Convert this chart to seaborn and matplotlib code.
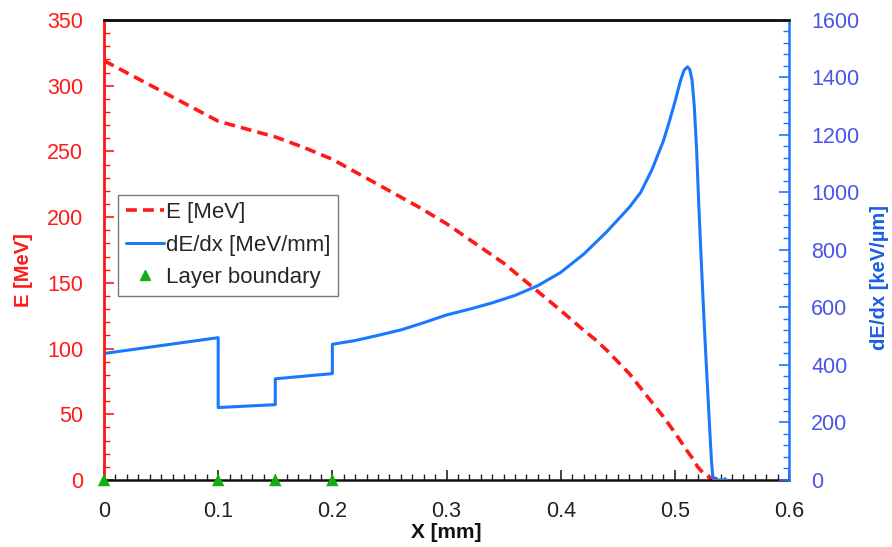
import numpy as np
import pandas as pd
import matplotlib
matplotlib.use("Agg")
import matplotlib.pyplot as plt
from matplotlib.ticker import MultipleLocator, FuncFormatter
from matplotlib.lines import Line2D
import seaborn as sns

# ---- data ----
e_x = [0.0, 0.05, 0.1, 0.125, 0.15, 0.175, 0.2, 0.225, 0.25, 0.275, 0.3,
       0.325, 0.35, 0.375, 0.4, 0.42, 0.43, 0.44, 0.45, 0.46, 0.47, 0.48,
       0.49, 0.5, 0.51, 0.515, 0.52, 0.525, 0.53, 0.535, 0.545]
e_val = [319, 296, 273, 267, 261, 253, 244, 232, 220, 208, 195,
         180, 165, 147, 129, 114, 107, 99, 90, 81, 70, 59,
         48, 36, 23, 17, 10, 5, 2, 1, 0.5]

dedx_x = [0.0, 0.1, 0.1, 0.15, 0.15, 0.2, 0.2, 0.22, 0.24, 0.26, 0.28, 0.30,
          0.32, 0.34, 0.36, 0.38, 0.40, 0.42, 0.44, 0.46, 0.47, 0.48, 0.49,
          0.495, 0.50, 0.505, 0.508, 0.511, 0.513, 0.515, 0.517, 0.519,
          0.521, 0.523, 0.525, 0.527, 0.529, 0.531, 0.532, 0.533, 0.534,
          0.545]
dedx_val = [440, 495, 252, 262, 352, 370, 472, 485, 503, 522, 547, 574,
            594, 616, 642, 676, 722, 785, 862, 948, 1000, 1080, 1180,
            1245, 1315, 1390, 1425, 1437, 1428, 1392, 1300, 1150,
            950, 770, 600, 440, 290, 140, 70, 20, 0,
            0]

layer_x = [0.0, 0.1, 0.15, 0.2]
layer_y = [0, 0, 0, 0]

RED = "#ff1a1a"
BLUE = "#1a78ff"
BLUE_TXT = "#4a55e8"
GREEN = "#10b010"

sns.set_theme(style="white")
plt.rcParams["font.family"] = ["Liberation Sans", "DejaVu Sans"]

fig = plt.figure(figsize=(8.92, 5.47), dpi=100)
ax = fig.add_axes([0.1166, 0.1225, 0.768, 0.841])
ax2 = ax.twinx()

sns.lineplot(x=e_x, y=e_val, ax=ax, color=RED, lw=2.6, estimator=None,
             sort=False, linestyle=(0, (3, 1.7)))
sns.lineplot(x=dedx_x, y=dedx_val, ax=ax2, color=BLUE, lw=2.2,
             estimator=None, sort=False)
sns.scatterplot(x=layer_x, y=layer_y, ax=ax2, color=GREEN, marker="^",
                s=80, edgecolor="none", zorder=5, clip_on=False)

ax.set_xlim(0, 0.6)
ax.set_ylim(0, 350)
ax2.set_ylim(0, 1600)

ax.xaxis.set_major_locator(MultipleLocator(0.1))
ax.xaxis.set_minor_locator(MultipleLocator(0.01))
ax.yaxis.set_major_locator(MultipleLocator(50))
ax.yaxis.set_minor_locator(MultipleLocator(10))
ax2.yaxis.set_major_locator(MultipleLocator(200))
ax2.yaxis.set_minor_locator(MultipleLocator(40))
ax.xaxis.set_major_formatter(FuncFormatter(
    lambda v, p: "0" if abs(v) < 1e-9 else f"{v:.1f}"))

ax.tick_params(axis="x", which="both", direction="in", bottom=True,
               colors="#222222", labelsize=15.5, pad=15)
ax.tick_params(axis="x", which="major", length=7, width=1.2)
ax.tick_params(axis="x", which="minor", length=4, width=1.0)
ax.tick_params(axis="y", which="both", direction="in", left=True,
               colors=RED, labelsize=15.5, pad=15)
ax.tick_params(axis="y", which="major", length=7, width=1.2)
ax.tick_params(axis="y", which="minor", length=4, width=1.0)
ax2.tick_params(axis="y", which="both", direction="in", right=True,
                colors=BLUE, labelcolor=BLUE_TXT, labelsize=15.5, pad=16)
ax2.tick_params(axis="y", which="major", length=7, width=1.2)
ax2.tick_params(axis="y", which="minor", length=4, width=1.0)

for sp in ["top", "bottom"]:
    ax.spines[sp].set_color("#111111")
    ax.spines[sp].set_linewidth(1.8)
ax2.spines["top"].set_color("#111111")
ax2.spines["top"].set_linewidth(1.8)
ax2.spines["bottom"].set_visible(False)
ax.spines["left"].set_color(RED)
ax.spines["left"].set_linewidth(1.8)
ax2.spines["left"].set_color(RED)
ax2.spines["left"].set_linewidth(1.8)
ax2.spines["right"].set_color(BLUE)
ax2.spines["right"].set_linewidth(1.8)
ax.spines["right"].set_visible(False)

ax.set_xlabel("X [mm]", fontsize=15, fontweight="bold", color="#111111")
ax.xaxis.set_label_coords(0.5, -0.093)
ax.set_ylabel("E [MeV]", fontsize=14.5, fontweight="bold", color=RED)
ax.yaxis.set_label_coords(-0.104, 0.457)
ax2.set_ylabel("dE/dx [keV/µm]", fontsize=14.5, fontweight="bold",
               color="#1a5fe0")
ax2.yaxis.set_label_coords(1.118, 0.44)

handles = [
    Line2D([], [], color=RED, lw=2.6, linestyle=(0, (3, 1.7))),
    Line2D([], [], color=BLUE, lw=2.2),
    Line2D([], [], color=GREEN, marker="^", linestyle="none", markersize=7),
]
labels = ["E [MeV]", "dE/dx [MeV/mm]", "Layer boundary"]
if ax.get_legend():
    ax.get_legend().remove()
if ax2.get_legend():
    ax2.get_legend().remove()
leg = ax2.legend(handles, labels, loc="upper left",
                 bbox_to_anchor=(0.021, 0.62), fontsize=16, frameon=True,
                 fancybox=False, edgecolor="#777777", framealpha=1,
                 handlelength=1.7, handletextpad=0.1, borderpad=0.33,
                 labelspacing=0.52, borderaxespad=0)
leg.get_frame().set_linewidth(1.0)

fig.savefig("out.png", dpi=100, facecolor="white")
